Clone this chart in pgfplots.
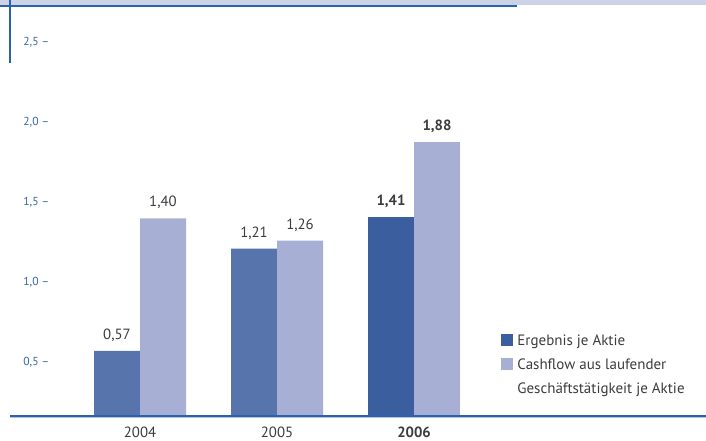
\documentclass[border=0pt]{standalone}
\usepackage{pgfplots}
\pgfplotsset{compat=1.18}
\usepackage{fontspec}
\setmainfont{PT Sans}

\definecolor{epsDark}{HTML}{3A5E9E}
\definecolor{epsMid}{HTML}{5874AD}
\definecolor{cfLight}{HTML}{A7B0D4}
\definecolor{lineBlue}{HTML}{2A63AC}
\definecolor{lineLight}{HTML}{B4C6E2}
\definecolor{tickBlue}{HTML}{3566A8}
\definecolor{bandBlue}{HTML}{CDD3E7}
\definecolor{txt}{HTML}{3C3C3C}

\begin{document}
\begin{tikzpicture}
\path[use as bounding box] (-5pt,-12pt) rectangle (348pt,208pt);
\begin{axis}[
  at={(0pt,0pt)}, anchor=south west,
  scale only axis, width=348pt, height=205pt,
  xmin=-0.9489, xmax=4.131, ymin=0.162, ymax=2.730,
  axis line style={draw=none},
  major tick length=0pt,
  /pgf/number format/assume math mode=true,
  xtick={0,1,2}, xticklabels={2004,2005,\textbf{2006}},
  xticklabel style={anchor=base, yshift=-10.9pt, font=\fontsize{7.4}{8}\selectfont, text=txt},
  ytick={0.5,1,1.5,2,2.5},
  yticklabels={{0,5 –},{1,0 –},{1,5 –},{2,0 –},{2,5 –}},
  yticklabel style={anchor=west, xshift=6.5pt, inner sep=0pt, font=\fontsize{5.8}{6}\selectfont, text=tickBlue},
  legend style={at={(0.7055,0.2)}, anchor=north west, draw=none, fill=none,
    inner sep=0pt, row sep=6pt, column sep=2pt,
    font=\fontsize{7.5}{8}\selectfont, text=txt,
    nodes={inner sep=0pt, text height=5.3pt, text depth=0pt}},
  legend cell align=left,
  nodes near coords style={anchor=base, yshift=5.75pt, inner sep=0pt,
    font=\fontsize{7.4}{8}\selectfont, text=txt},
  left bar/.style={ybar, bar width=23pt, bar shift=-11.5pt, draw=none,
    every node near coord/.append style={xshift=-11.5pt}},
  right bar/.style={ybar, bar width=23pt, bar shift=11.5pt, draw=none,
    every node near coord/.append style={xshift=11.5pt}},
]
% 2006: bold value labels
\addplot[left bar, fill=epsDark,
  nodes near coords={\textbf{\pgfmathprintnumber[fixed,fixed zerofill,precision=2,use comma]{\pgfplotspointmeta}}},
  legend image code/.code={\fill[epsDark] (0pt,-3pt) rectangle (6pt,3pt);}]
  coordinates {(2,1.41)};
\addlegendentry{Ergebnis je Aktie}
\addplot[right bar, fill=cfLight,
  nodes near coords={\textbf{\pgfmathprintnumber[fixed,fixed zerofill,precision=2,use comma]{\pgfplotspointmeta}}},
  legend image code/.code={\fill[cfLight] (0pt,-3pt) rectangle (6pt,3pt);}]
  coordinates {(2,1.88)};
\addlegendentry{Cashflow aus laufender}
\addlegendimage{empty legend}
\addlegendentry{Geschäftstätigkeit je Aktie}
% 2004 and 2005
\addplot[forget plot, left bar, fill=epsMid,
  nodes near coords={\pgfmathprintnumber[fixed,fixed zerofill,precision=2,use comma]{\pgfplotspointmeta}}]
  coordinates {(0,0.57) (1,1.21)};
\addplot[forget plot, right bar, fill=cfLight,
  nodes near coords={\pgfmathprintnumber[fixed,fixed zerofill,precision=2,use comma]{\pgfplotspointmeta}}]
  coordinates {(0,1.40) (1,1.26)};
\end{axis}
% frame decorations
\fill[bandBlue] (-5pt,205.25pt) rectangle (348pt,208pt);
\draw[lineBlue, line width=0.6pt] (-5pt,205pt) -- (253.5pt,205pt);
\draw[lineBlue, line width=0.6pt] (0pt,208pt) -- (0pt,176.5pt);
\draw[lineBlue, line width=0.6pt] (0pt,0pt) -- (348pt,0pt);
\draw[lineLight, line width=0.5pt] (0pt,-0.8pt) -- (348pt,-0.8pt);
\end{tikzpicture}
\end{document}
